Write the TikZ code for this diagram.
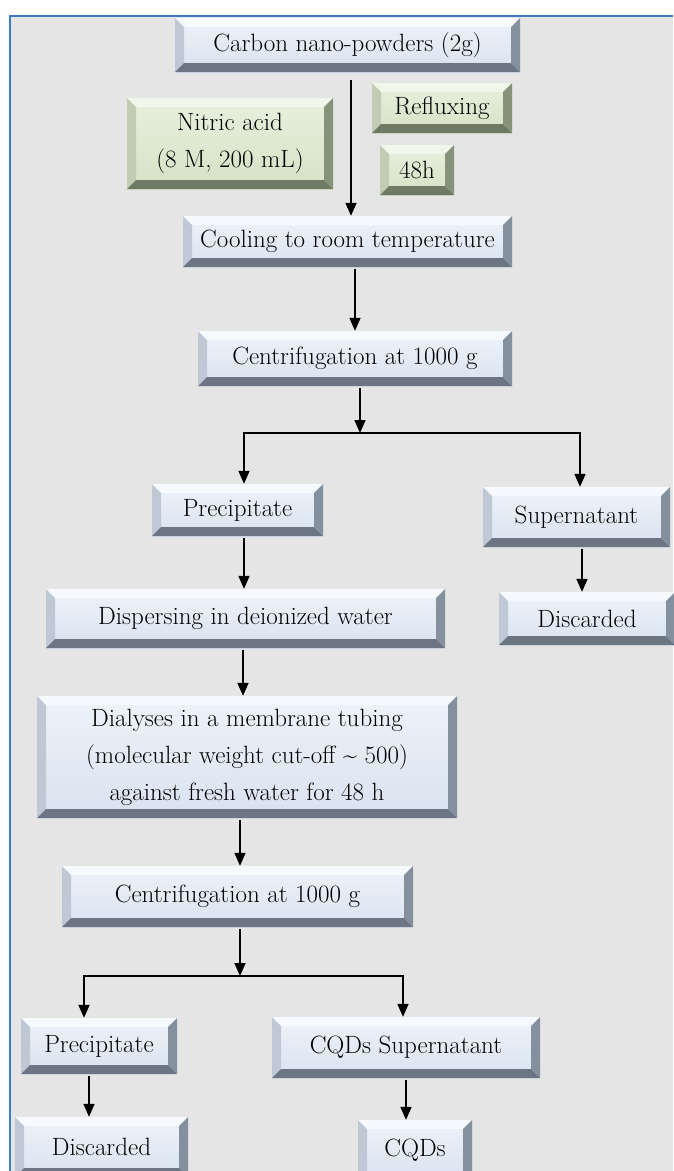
\documentclass[tikz,border=0pt]{standalone}
\usepackage{fontspec}
\usepackage{xcolor}
\usepackage{tikz}
\usetikzlibrary{arrows.meta}
\definecolor{bgGray}{HTML}{E5E5E5}
\definecolor{frameBlue}{HTML}{3C7DC4}
\definecolor{faceTop}{HTML}{EEF3FA}
\definecolor{faceBot}{HTML}{D8E2EF}
\definecolor{bevTop}{HTML}{F6F9FD}
\definecolor{bevLeft}{HTML}{BFC9D6}
\definecolor{bevRight}{HTML}{85909E}
\definecolor{bevBot}{HTML}{6C7683}
\definecolor{greenTop}{HTML}{E8F0DE}
\definecolor{greenBot}{HTML}{D5E2C5}
\definecolor{gbevTop}{HTML}{F1F6EA}
\definecolor{gbevLeft}{HTML}{C1CCB3}
\definecolor{gbevRight}{HTML}{86927A}
\definecolor{gbevBot}{HTML}{6E7A63}
\newcommand{\bevelw}{9pt}
\newcommand{\bevelfaces}[4]{%
    \fill[#1] (path picture bounding box.north west) -- (path picture bounding box.north east)
        -- ([shift={(-\bevelw,-\bevelw)}]path picture bounding box.north east)
        -- ([shift={(\bevelw,-\bevelw)}]path picture bounding box.north west) -- cycle;
    \fill[#2] (path picture bounding box.north west) -- ([shift={(\bevelw,-\bevelw)}]path picture bounding box.north west)
        -- ([shift={(\bevelw,\bevelw)}]path picture bounding box.south west)
        -- (path picture bounding box.south west) -- cycle;
    \fill[#3] (path picture bounding box.north east) -- ([shift={(-\bevelw,-\bevelw)}]path picture bounding box.north east)
        -- ([shift={(-\bevelw,\bevelw)}]path picture bounding box.south east)
        -- (path picture bounding box.south east) -- cycle;
    \fill[#4] (path picture bounding box.south west) -- ([shift={(\bevelw,\bevelw)}]path picture bounding box.south west)
        -- ([shift={(-\bevelw,\bevelw)}]path picture bounding box.south east)
        -- (path picture bounding box.south east) -- cycle;
}
\tikzset{
    stepnode/.style={
        rectangle,
        inner sep=0pt,
        align=center,
        text=black,
        font=\fontsize{25}{37}\selectfont,
        top color=faceTop,
        bottom color=faceBot,
        path picture={\bevelfaces{bevTop}{bevLeft}{bevRight}{bevBot}}
    },
    greennode/.style={
        stepnode,
        top color=greenTop,
        bottom color=greenBot,
        path picture={\bevelfaces{gbevTop}{gbevLeft}{gbevRight}{gbevBot}}
    },
    ptr/.style={
        -{Triangle[length=13pt, width=11pt]},
        line width=1.6pt,
        shorten <=2pt
    }
}

\begin{document}
\begin{tikzpicture}[x=1pt, y=-1pt]
    % Frame
    \useasboundingbox (0,0) rectangle (673,1171);
    \fill[bgGray] (10,16) rectangle (673,1171);
    \draw[frameBlue, line width=2pt] (10,1171) -- (10,16) -- (673,16);

    % Nodes
    \node[stepnode, minimum width=345pt, minimum height=54pt] (carbon) at (347.5,45) {Carbon nano-powders (2g)};
    \node[greennode, minimum width=206pt, minimum height=91pt] (nitric) at (230,143.5) {Nitric acid\\(8 M, 200 mL)};
    \node[greennode, minimum width=140pt, minimum height=50pt] (reflux) at (442,108) {Refluxing};
    \node[greennode, minimum width=74pt, minimum height=50pt] (hours) at (417,170) {48h};
    \node[stepnode, minimum width=329pt, minimum height=51pt] (cool) at (347.5,241.5) {Cooling to room temperature};
    \node[stepnode, minimum width=314pt, minimum height=55pt] (centA) at (355,358.5) {Centrifugation at 1000 g};
    \node[stepnode, minimum width=171pt, minimum height=52pt] (precA) at (237.5,510) {Precipitate};
    \node[stepnode, minimum width=187pt, minimum height=60pt] (superA) at (576.5,517) {Supernatant};
    \node[stepnode, minimum width=399pt, minimum height=59pt] (disp) at (245.5,618.5) {Dispersing in deionized water};
    \node[stepnode, minimum width=176pt, minimum height=53pt] (discA) at (587,618.5) {Discarded};
    \node[stepnode, minimum width=420pt, minimum height=122pt] (dial) at (247,757) {Dialyses in a membrane tubing\\(molecular weight cut-off \textasciitilde\ 500)\\against fresh water for 48 h};
    \node[stepnode, minimum width=351pt, minimum height=61pt] (centB) at (237.5,896.5) {Centrifugation at 1000 g};
    \node[stepnode, minimum width=156pt, minimum height=56pt] (precB) at (99,1046) {Precipitate};
    \node[stepnode, minimum width=268pt, minimum height=61pt] (cqdSup) at (406,1047.5) {CQDs Supernatant};
    \node[stepnode, minimum width=173pt, minimum height=60pt] (discB) at (101.5,1147) {Discarded};
    \node[stepnode, minimum width=114pt, minimum height=60pt] (cqds) at (415,1150) {CQDs};

    % Branch points
    \coordinate (splitA) at (360,433);
    \coordinate (leftA) at (244,433);
    \coordinate (rightA) at (580,433);
    \coordinate (splitB) at (240,976);
    \coordinate (leftB) at (84,976);
    \coordinate (rightB) at (403,976);

    % Arrows
    \draw[ptr, shorten <=8pt] ([xshift=3.5pt]carbon.south) -- ([xshift=3.5pt]cool.north);
    \draw[ptr] (centA.north |- cool.south) -- (centA.north);
    \draw[ptr] (centA.south -| splitA) -- (splitA);
    \draw[ptr, shorten <=0pt] (splitA) -| (leftA |- precA.north);
    \draw[ptr, shorten <=0pt] (splitA) -| (rightA |- superA.north);
    \draw[ptr] (leftA |- precA.south) -- (leftA |- disp.north);
    \draw[ptr] ([xshift=5.5pt]superA.south) -- ([xshift=5.5pt]superA.south |- discA.north);
    \draw[ptr] ([xshift=-2.5pt]disp.south) -- ([xshift=-2.5pt]disp.south |- dial.north);
    \draw[ptr] (splitB |- dial.south) -- (splitB |- centB.north);
    \draw[ptr] (splitB |- centB.south) -- (splitB);
    \draw[ptr, shorten <=0pt] (splitB) -| (leftB |- precB.north);
    \draw[ptr, shorten <=0pt] (splitB) -| (rightB |- cqdSup.north);
    \draw[ptr] ([xshift=-10pt]precB.south) -- ([xshift=-10pt]precB.south |- discB.north);
    \draw[ptr] (cqdSup.south) -- (cqdSup.south |- cqds.north);
\end{tikzpicture}
\end{document}
